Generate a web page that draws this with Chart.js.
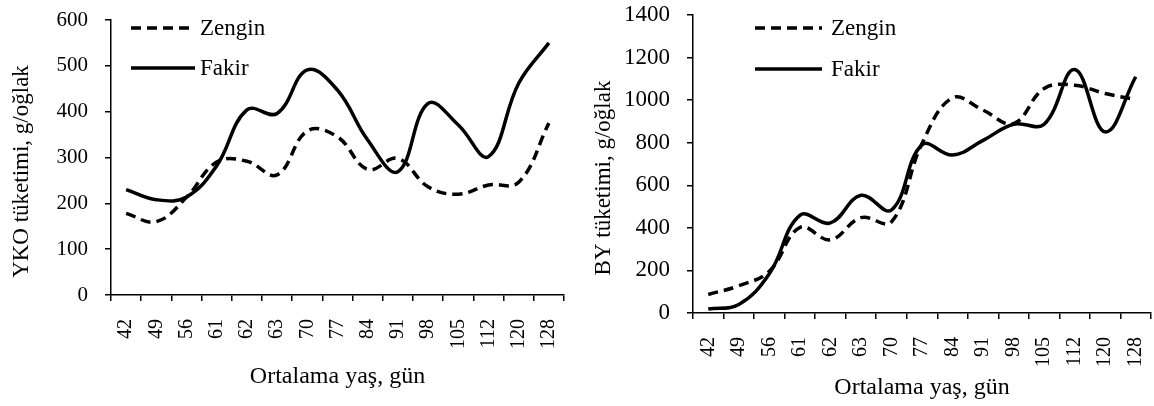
<!DOCTYPE html>
<html>
<head>
<meta charset="utf-8">
<script src="https://cdn.jsdelivr.net/npm/chart.js@4/dist/chart.umd.min.js"></script>
<style>
  body { margin: 0; background: #fff; }
  .box { position: absolute; top: 0; width: 577px; height: 406px; }
</style>
</head>
<body>
<div class="box" style="left:0"><canvas id="yko-chart"></canvas></div>
<div class="box" style="left:577px"><canvas id="by-chart"></canvas></div>
<script>
// Ortalama yaş (gün)
const days = ['42', '49', '56', '61', '62', '63', '70', '77', '84', '91', '98', '105', '112', '120', '128'];

// YKO tüketimi, g/oğlak
const ykoZengin = [178, 160, 213, 290, 292, 262, 358, 345, 274, 298, 236, 220, 240, 246, 375];
const ykoFakir = [230, 208, 214, 282, 404, 396, 491, 447, 338, 269, 418, 371, 302, 462, 550];

// BY tüketimi, g/oğlak
const byZengin = [87, 128, 196, 402, 344, 448, 428, 796, 1011, 953, 890, 1055, 1070, 1031, 1003];
const byFakir = [19, 40, 184, 459, 423, 553, 484, 790, 742, 811, 887, 887, 1144, 851, 1110];

Chart.defaults.font.family = '"Liberation Serif", "Times New Roman", serif';
Chart.defaults.color = '#000';

// legend inside the plot area and the y title, drawn like the Excel original
const excelBits = {
    id: 'excelBits',
    afterDatasetsDraw(chart, args, opts) {
        const ctx = chart.ctx;
        const area = chart.chartArea;
        ctx.save();
        ctx.fillStyle = '#000';
        ctx.font = '23px "Liberation Serif"';
        ctx.textBaseline = 'middle';
        chart.data.datasets.forEach(function (ds, i) {
            const y = area.top + opts.rows[i];
            ctx.beginPath();
            ctx.setLineDash(ds.borderDash || []);
            ctx.lineWidth = ds.borderWidth;
            ctx.strokeStyle = ds.borderColor;
            ctx.moveTo(area.left + opts.lineFrom, y);
            ctx.lineTo(area.left + opts.lineTo, y);
            ctx.stroke();
            ctx.setLineDash([]);
            ctx.textAlign = 'left';
            ctx.fillText(ds.label, area.left + opts.textAt, y + 1);
        });

        // y axis title, sits a bit below the middle of the axis
        ctx.translate(opts.titleX, (area.top + area.bottom) / 2 + opts.titleShift);
        ctx.rotate(-Math.PI / 2);
        ctx.textAlign = 'center';
        ctx.fillText(opts.yTitle, 0, 0);
        ctx.restore();
    }
};

function makeChart(id, zengin, fakir, cfg) {
    const ctx = document.getElementById(id).getContext('2d');
    return new Chart(ctx, {
        type: 'line',
        data: {
            labels: days,
            datasets: [{
                label: 'Zengin',
                data: zengin,
                borderColor: '#000',
                borderWidth: 3.5,
                borderDash: [10, 6],
                tension: 0.4,
                pointRadius: 0,
                fill: false
            }, {
                label: 'Fakir',
                data: fakir,
                borderColor: '#000',
                borderWidth: 3.5,
                tension: 0.4,
                pointRadius: 0,
                fill: false
            }]
        },
        options: {
            responsive: true,
            maintainAspectRatio: false,
            animation: false,
            layout: { padding: cfg.padding },
            plugins: {
                legend: { display: false },
                tooltip: { enabled: false },
                excelBits: cfg.legend
            },
            scales: {
                x: {
                    offset: true,
                    grid: { offset: true, drawOnChartArea: false, tickLength: 6, color: '#000', lineWidth: 1.5 },
                    border: { color: '#000', width: 1.5 },
                    ticks: { minRotation: 90, maxRotation: 90, autoSkip: false, padding: 18, font: { size: 20 } },
                    title: { display: true, text: 'Ortalama yaş, gün', font: { size: 24 }, padding: { top: 0, bottom: cfg.xTitleBottom } },
                    afterFit: function (scale) {
                        scale.height = cfg.xHeight;
                        scale.paddingLeft = 0;
                        scale.paddingRight = 0;
                    }
                },
                y: {
                    min: 0,
                    max: cfg.yMax,
                    ticks: {
                        stepSize: cfg.yStep,
                        padding: 17,
                        font: { size: cfg.yFont },
                        callback: function (value) { return String(value); }
                    },
                    grid: { drawOnChartArea: false, tickLength: 6, color: '#000', lineWidth: 1.5 },
                    border: { color: '#000', width: 1.5 },
                    afterFit: function (scale) {
                        scale.width = cfg.yWidth;
                        scale.paddingTop = 0;
                        scale.paddingBottom = 0;
                    }
                }
            }
        },
        plugins: [excelBits]
    });
}

makeChart('yko-chart', ykoZengin, ykoFakir, {
    padding: { left: 0, right: 13, top: 20, bottom: 0 },
    yMax: 600,
    yStep: 100,
    yFont: 21,
    yWidth: 111,
    xHeight: 111,
    xTitleBottom: 15,
    legend: { lineFrom: 20, lineTo: 84, textAt: 89, rows: [8, 48], yTitle: 'YKO tüketimi, g/oğlak', titleX: 22, titleShift: 14 }
});

makeChart('by-chart', byZengin, byFakir, {
    padding: { left: 0, right: 3, top: 15, bottom: 0 },
    yMax: 1400,
    yStep: 200,
    yFont: 23,
    yWidth: 116,
    xHeight: 93,
    xTitleBottom: 4,
    legend: { lineFrom: 62, lineTo: 129, textAt: 138, rows: [13, 54], yTitle: 'BY tüketimi, g/oğlak', titleX: 27, titleShift: 14 }
});
</script>
</body>
</html>
